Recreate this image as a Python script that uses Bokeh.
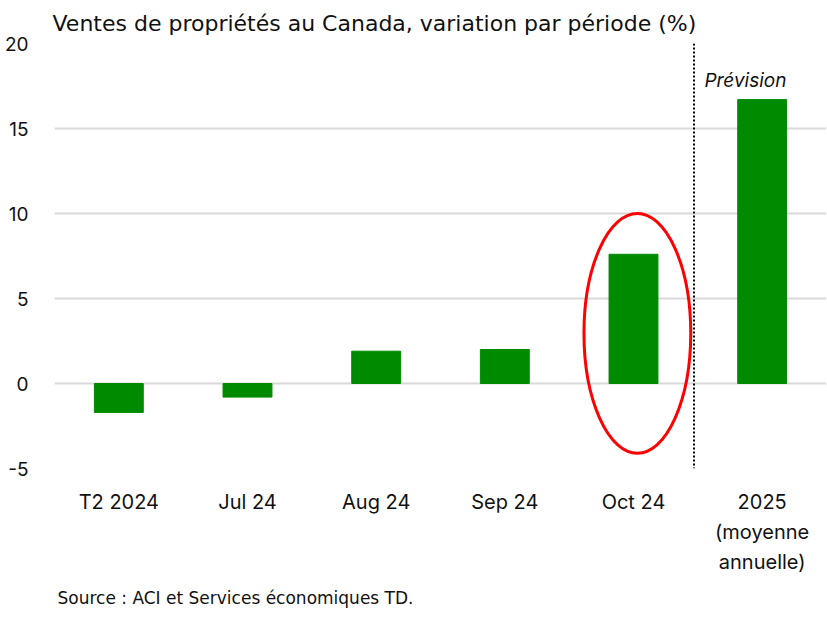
from bokeh.plotting import figure
from bokeh.models import FixedTicker, Span, Label, Title
from bokeh.embed import file_html
from bokeh.resources import INLINE

categories = ["T2 2024", "Jul 24", "Aug 24", "Sep 24", "Oct 24", "2025\n(moyenne\nannuelle)"]
values = [-1.7, -0.8, 1.9, 2.0, 7.6, 16.7]
y_ticks = [-5, 0, 5, 10, 15, 20]
y_tick_labels = ["-5", "0", "5", "10", "15", "20"]
title_text = "Ventes de propriétés au Canada, variation par période (%)"
source_text = "Source : ACI et Services économiques TD."
forecast_text = "Prévision"

FONT = "Inter"
WIDE = "DejaVu Sans"
GREEN = "#008A00"

xs = list(range(len(categories)))

p = figure(width=827, height=617, x_range=(-0.5, 5.5), y_range=(-5, 20),
           output_backend="svg", toolbar_location=None,
           min_border_left=54, min_border_right=1, min_border_top=43, min_border_bottom=149)

p.vbar(x=xs, top=values, bottom=0, width=0.38, color=GREEN)

# highlight ellipse around October
p.ellipse(x=4.03, y=2.95, width=0.83, height=14.1, fill_color=None,
          line_color="#FF0000", line_width=3)

# forecast separator
p.add_layout(Span(location=4.47, dimension="height", line_color="black",
                  line_width=2, line_dash="2 2"))
p.add_layout(Label(x=4.87, y=17.8, text=forecast_text, text_align="center",
                   text_baseline="middle", text_font=FONT, text_font_style="italic",
                   text_font_size="19px", text_color="#111111"))

p.outline_line_color = None
p.xgrid.grid_line_color = None
p.ygrid.grid_line_color = "#d9d9d9"
p.ygrid.grid_line_width = 2
p.ygrid.ticker = FixedTicker(ticks=y_ticks)

p.yaxis.ticker = FixedTicker(ticks=y_ticks)
p.yaxis.major_label_overrides = dict(zip(y_ticks, y_tick_labels))
p.yaxis.axis_line_color = None
p.yaxis.major_tick_line_color = None
p.yaxis.minor_tick_line_color = None
p.yaxis.major_label_text_font = FONT
p.yaxis.major_label_text_font_size = "19px"
p.yaxis.major_label_text_color = "#111111"
p.yaxis.major_label_standoff = 20

p.xaxis.ticker = FixedTicker(ticks=xs)
p.xaxis.major_label_overrides = {i: c for i, c in enumerate(categories)}
p.xaxis.axis_line_color = None
p.xaxis.major_tick_line_color = None
p.xaxis.minor_tick_line_color = None
p.xaxis.major_label_text_font = FONT
p.xaxis.major_label_text_font_size = "20px"
p.xaxis.major_label_text_color = "#111111"
p.xaxis.major_label_standoff = 15
p.xaxis.major_label_text_line_height = 1.25

p.title.text = title_text
p.title.text_font = WIDE
p.title.text_font_size = "22px"
p.title.text_font_style = "normal"
p.title.text_color = "#111111"
p.title.align = "left"
p.title.offset = -2
p.title.standoff = 15

p.add_layout(Title(text=source_text, text_font=WIDE, text_font_size="17px",
                   text_font_style="normal", text_color="#111111", align="left",
                   offset=3, standoff=19), "below")

open("out.html", "w").write(file_html(p, INLINE))
